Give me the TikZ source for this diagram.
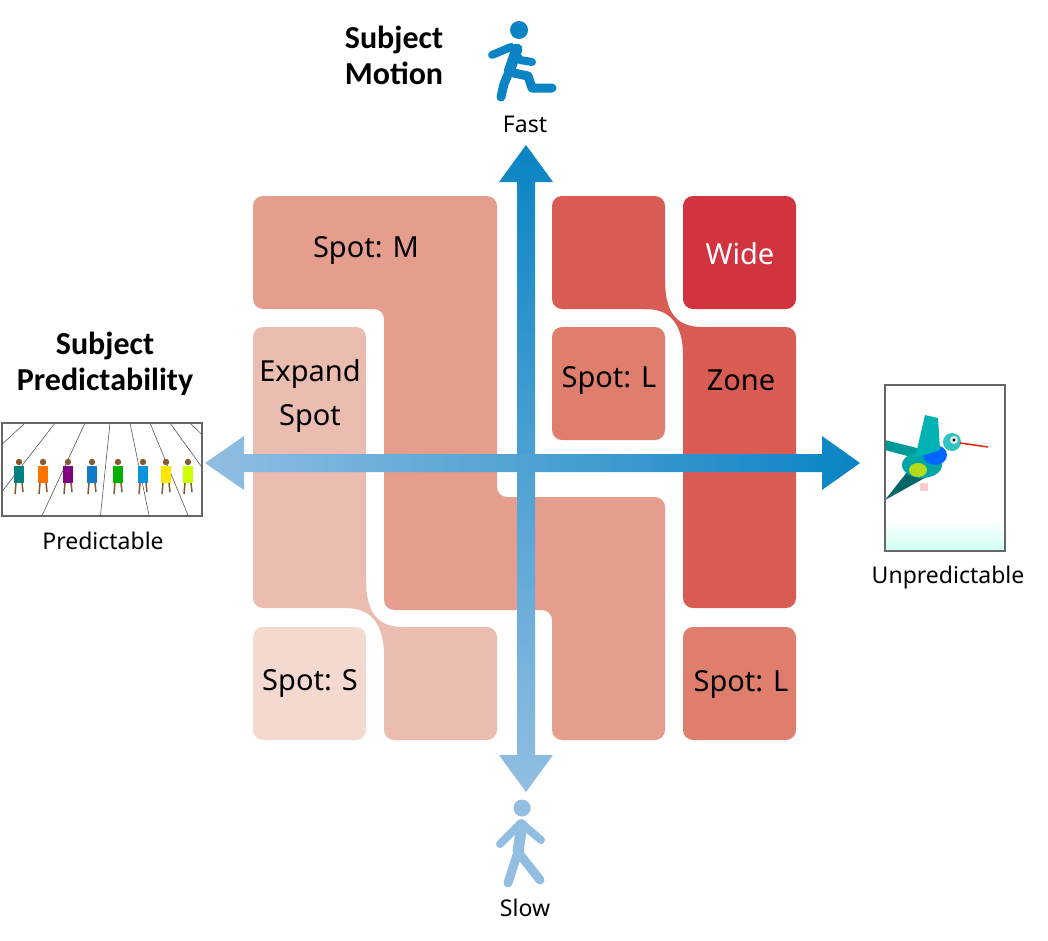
\documentclass[tikz,border=0pt]{standalone}
\usepackage{fontspec}
\setmainfont{Noto Sans}
\newfontfamily\titlefont{Carlito}
\usetikzlibrary{shapes.geometric}
\definecolor{cS}{HTML}{F3D9D0}
\definecolor{cE}{HTML}{EBBCB0}
\definecolor{cM}{HTML}{E59D8E}
\definecolor{cL}{HTML}{E07E6E}
\definecolor{cZ}{HTML}{D95C54}
\definecolor{cW}{HTML}{D2343F}
\definecolor{bD}{HTML}{0A84C4}
\definecolor{bL}{HTML}{92BEE2}
\tikzset{
  region/.style={rounded corners=10pt},
  lab/.style={font=\fontsize{29}{36}\selectfont, align=center},
  small/.style={font=\fontsize{23}{27}\selectfont},
  title/.style={font=\titlefont\bfseries\fontsize{32}{36}\selectfont, align=left},
  fig/.style={line width=11pt, line cap=round, line join=round},
}
\begin{document}
\begin{tikzpicture}[x=1pt,y=-1pt]
\useasboundingbox (0,0) rectangle (1048,940);
% regions
\fill[cM,region] (253,196) -- (497,196) -- (497,497) -- (665,497) -- (665,740) -- (552,740) -- (552,610) -- (384,610) -- (384,309) -- (253,309) -- cycle;
\fill[cE,region] (253,327) rectangle (366,608);
\fill[cE,region] (384,627) rectangle (497,740);
\fill[cE] (366,580) .. controls (366,608) and (375,627) .. (402,627) -- (402,655) -- (384,655) .. controls (384,630) and (375,608) .. (346,608) -- (346,580) -- cycle;
\fill[cS,region] (253,627) rectangle (366,740);
\fill[cZ,region] (552,196) rectangle (665,309);
\fill[cZ,region] (683,327) rectangle (796,608);
\fill[cZ] (665,280) .. controls (665,309) and (674,327) .. (702,327) -- (702,355) -- (683,355) .. controls (683,330) and (674,309) .. (646,309) -- (646,280) -- cycle;
\fill[cL,region] (552,327) rectangle (665,440);
\fill[cW,region] (683,196) rectangle (796,309);
\fill[cL,region] (683,627) rectangle (796,740);
\node[lab] (m) at (366,250) {Spot: M};
\node[lab] (e) at (310,396) {Expand\\[8pt]Spot};
\node[lab] (s) at (310,683) {Spot: S};
\node[lab] (l1) at (609,380) {Spot: L};
\node[lab] (z) at (741,380) {Zone};
\node[lab,text=white] (w) at (740,254) {Wide};
\node[lab] (l2) at (741,684) {Spot: L};
% arrows
\shade[bottom color=bL, top color=bD] (526,145) -- (553,182) -- (535,182) -- (535,755) -- (553,755) -- (526,792) -- (499,755) -- (517,755) -- (517,182) -- (499,182) -- cycle;
\shade[left color=bL, right color=bD] (205,463) -- (244,436) -- (244,454) -- (822,454) -- (822,436) -- (860,463) -- (822,490) -- (822,472) -- (244,472) -- (244,490) -- cycle;
% titles
\node[title] (tm) at (394,55) {Subject\\Motion};
\node[title,align=center] (tp) at (105,364) {Subject\\Predictability};
\node[small] (fast) at (525,124) {Fast};
\node[small] (slow) at (525,908) {Slow};
\node[small] (pred) at (103,541) {Predictable};
\node[small] (unp) at (948,578) {Unpredictable};
% running man
\fill[bD] (519,30) circle (9);
\draw[bD,fig] (517,49) -- (509,72);
\draw[bD,fig,line width=8pt] (492,55) -- (511,47) -- (520,60) -- (532,62);
\draw[bD,fig,line width=9pt] (509,72) -- (504,84) -- (501,97);
\draw[bD,fig,line width=9pt] (509,72) -- (528,76) -- (532,88) -- (552,88);
% walking man
\fill[bL] (522,808) circle (8.5);
\draw[bL,fig] (522,825) -- (518,852);
\draw[bL,fig,line width=8pt] (500,844) -- (521,823) -- (541,840);
\draw[bL,fig,line width=9pt] (518,852) -- (508,883);
\draw[bL,fig,line width=9pt] (518,852) -- (540,880);
% runners photo
\begin{scope}
\clip (2,423) rectangle (202,516);
\fill[white] (2,423) rectangle (202,516);
\foreach \a/\b in {10/-80,40/-20,70/40,95/100,115/150,135/190,155/240,175/290,195/330}
  \draw[gray!70!black,line width=0.6pt] (\a+15,423) -- (\b,520);
\foreach \x/\c in {19/teal,43/orange!90!red,68/violet,92/cyan!60!blue,118/green!70!black,143/cyan!80!blue,166/yellow!90!orange,188/lime!80!yellow}{
  \fill[brown!70!black] (\x,462) circle (3.2);
  \fill[\c] (\x-5,466) rectangle (\x+5,483);
  \draw[brown!70!black,line width=1.5pt] (\x-3,483) -- (\x-4,494) (\x+3,483) -- (\x+4,492);
}
\end{scope}
\draw[gray!80!black,line width=1.2pt] (2,423) rectangle (202,516);
% bird photo
\begin{scope}
\clip (885,385) rectangle (1005,551);
\fill[white] (885,385) rectangle (1005,551);
\shade[top color=white, bottom color=green!25!cyan!20] (885,520) rectangle (1005,551);
\fill[teal!80!cyan] (885,440) -- (925,450) -- (930,462) -- (885,450) -- cycle;
\fill[teal!80!black] (885,500) -- (915,462) -- (930,475) -- cycle;
\fill[teal!70!cyan] (922,465) ellipse (20 and 13);
\fill[blue!60!cyan] (935,455) ellipse (12 and 10);
\fill[yellow!70!green] (918,470) ellipse (9 and 7);
\fill[teal!60!cyan] (915,458) -- (925,415) -- (938,418) -- (940,450) -- cycle;
\fill[teal!60!cyan!80!white] (952,442) circle (9);
\fill[gray!20] (954,440) circle (4);
\fill[black] (954,440) circle (1.6);
\draw[red!70!brown,line width=1.5pt] (960,443) -- (988,447);
\fill[red!20] (920,483) rectangle (928,491);
\end{scope}
\draw[gray!80!black,line width=1.2pt] (885,385) rectangle (1005,551);
\end{tikzpicture}
\end{document}
